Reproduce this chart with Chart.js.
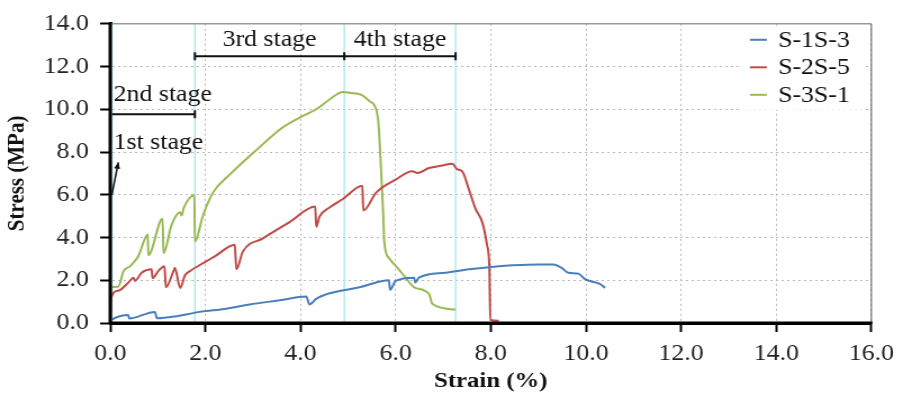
<!DOCTYPE html>
<html>
<head>
<meta charset="utf-8">
<script src="https://cdn.jsdelivr.net/npm/chart.js@4.4.0/dist/chart.umd.min.js"></script>
<style>
    html, body { margin: 0; padding: 0; background: #fff; }
</style>
</head>
<body>
<canvas id="stressChart" width="803" height="398" style="display:block;width:903px;height:398px"></canvas>
<script>
// Stress-strain curves of three specimens with loading stages

const seriesNames = ['S-1S-3', 'S-2S-5', 'S-3S-1'];
const seriesColors = ['#4a7ebb', '#be4b48', '#98b954'];

// S-1S-3
const s1Strain = [0, 0.02, 0.38, 0.40, 0.94, 0.98, 1.40, 1.88, 2.44, 2.93, 3.56, 4.12, 4.19, 4.33, 4.61,
    5.24, 5.86, 5.88, 6.00, 6.39, 6.41, 6.49, 7.05, 7.54, 8.17, 8.45, 9.00, 9.32, 9.49, 9.63, 9.84,
    9.98, 10.12, 10.30, 10.40];
const s1Stress = [0.10, 0.14, 0.37, 0.21, 0.52, 0.22, 0.32, 0.52, 0.67, 0.87, 1.06, 1.24, 0.87, 1.13, 1.39,
    1.67, 2.00, 1.55, 1.97, 2.12, 1.90, 2.12, 2.35, 2.51, 2.66, 2.70, 2.74, 2.74, 2.58, 2.35, 2.31,
    2.05, 1.94, 1.82, 1.64];

// S-2S-5
const s2Strain = [0, 0.02, 0.17, 0.38, 0.49, 0.52, 0.66, 0.87, 0.89, 1.01, 1.14, 1.17, 1.33, 1.36, 1.47,
    1.57, 1.68, 1.99, 2.20, 2.62, 2.65, 2.79, 3.21, 3.77, 4.31, 4.33, 4.40, 4.61, 4.89, 5.30, 5.32,
    5.59, 6.00, 6.35, 6.46, 6.70, 6.98, 7.19, 7.29, 7.40, 7.54, 7.68, 7.82, 7.92, 7.97, 7.99, 8.17];
const s2Stress = [0, 1.20, 1.51, 1.89, 2.12, 1.97, 2.35, 2.51, 2.10, 2.43, 2.66, 1.67, 2.43, 2.58, 1.64,
    2.22, 2.43, 2.85, 3.12, 3.66, 2.51, 3.35, 3.96, 4.72, 5.45, 4.50, 4.98, 5.40, 5.80, 6.42, 5.26,
    6.10, 6.71, 7.10, 7.02, 7.25, 7.37, 7.45, 7.20, 7.10, 6.25, 5.34, 4.72, 3.66, 2.58, 0.14, 0.10];

// S-3S-1
const s3Strain = [0, 0.01, 0.03, 0.17, 0.28, 0.42, 0.59, 0.79, 0.80, 1.10, 1.12, 1.29, 1.47, 1.50, 1.55,
    1.77, 1.78, 1.95, 2.16, 2.51, 3.07, 3.63, 4.05, 4.33, 4.61, 4.89, 5.06, 5.27, 5.45, 5.59, 5.64,
    5.69, 5.74, 5.76, 5.86, 6.04, 6.21, 6.39, 6.70, 6.77, 7.26];
const s3Stress = [0, 1.00, 1.67, 1.70, 2.43, 2.66, 3.12, 4.14, 3.17, 4.88, 3.27, 4.59, 5.18, 5.03, 5.41,
    5.98, 3.81, 5.03, 6.10, 6.94, 8.09, 9.16, 9.69, 10.00, 10.46, 10.81, 10.76, 10.69, 10.38, 10.00, 9.31,
    7.33, 5.03, 3.81, 3.04, 2.58, 2.12, 1.67, 1.36, 0.90, 0.63];

// Axis ranges and stage boundaries (strain, %)
const strainRange = [0, 16];
const stressRange = [0, 14];
const stageBounds = [0.04, 1.78, 4.92, 7.26];
const stageLabels = ['1st stage', '2nd stage', '3rd stage', '4th stage'];

const serifFont = "'Liberation Serif', 'Times New Roman', serif";

function toPoints(xs, ys) {
    return xs.map((x, i) => ({ x: x, y: ys[i] }));
}

function strokeLine(ctx, x0, y0, x1, y1) {
    ctx.beginPath();
    ctx.moveTo(x0, y0);
    ctx.lineTo(x1, y1);
    ctx.stroke();
}

const stagePlugin = {
    id: 'stages',
    beforeDatasetsDraw(chart) {
        const { ctx, chartArea, scales } = chart;
        ctx.save();
        ctx.strokeStyle = '#a3e2ea';
        ctx.lineWidth = 1.2;
        stageBounds.forEach(s => {
            const x = scales.x.getPixelForValue(s);
            strokeLine(ctx, x, chartArea.top, x, chartArea.bottom);
        });
        ctx.restore();
    },
    afterDatasetsDraw(chart) {
        const { ctx, chartArea, scales } = chart;
        const xs = scales.x, ys = scales.y;
        ctx.save();
        ctx.setLineDash([]);

        // frame: grey top and right, solid black axes
        ctx.lineWidth = 1.5;
        ctx.strokeStyle = '#999';
        strokeLine(ctx, chartArea.left, chartArea.top, chartArea.right, chartArea.top);
        ctx.lineWidth = 1;
        ctx.strokeStyle = '#555';
        strokeLine(ctx, chartArea.right, chartArea.top, chartArea.right, chartArea.bottom);
        ctx.lineWidth = 3;
        ctx.strokeStyle = '#000';
        strokeLine(ctx, chartArea.left, chartArea.top - 1, chartArea.left, chartArea.bottom + 1);
        strokeLine(ctx, chartArea.left - 1, chartArea.bottom, chartArea.right + 1, chartArea.bottom);

        // stage brackets
        ctx.strokeStyle = '#111';
        ctx.lineWidth = 2;
        const hbar = (x0, x1, y, ticks) => {
            const py = ys.getPixelForValue(y);
            ctx.beginPath();
            ctx.moveTo(xs.getPixelForValue(x0), py);
            ctx.lineTo(xs.getPixelForValue(x1), py);
            ticks.forEach(t => {
                const px = xs.getPixelForValue(t);
                ctx.moveTo(px, py - 4);
                ctx.lineTo(px, py + 4);
            });
            ctx.stroke();
        };
        hbar(stageBounds[1], stageBounds[3], 12.48, [stageBounds[1], stageBounds[2], stageBounds[3]]);
        hbar(stageBounds[0], stageBounds[1], 9.77, [stageBounds[1]]);

        ctx.fillStyle = '#111';
        ctx.font = '23px ' + serifFont;
        ctx.textBaseline = 'alphabetic';
        ctx.textAlign = 'center';
        ctx.fillText(stageLabels[2], xs.getPixelForValue((stageBounds[1] + stageBounds[2]) / 2), ys.getPixelForValue(12.95));
        ctx.fillText(stageLabels[3], xs.getPixelForValue((stageBounds[2] + stageBounds[3]) / 2), ys.getPixelForValue(12.95));
        ctx.textAlign = 'left';
        ctx.fillText(stageLabels[1], xs.getPixelForValue(0.07), ys.getPixelForValue(10.41));
        ctx.fillText(stageLabels[0], xs.getPixelForValue(0.07), ys.getPixelForValue(8.13));

        // arrow pointing at the first stage
        const ax0 = xs.getPixelForValue(0.035), ay0 = ys.getPixelForValue(6.0);
        const ax1 = xs.getPixelForValue(0.17), ay1 = ys.getPixelForValue(7.52);
        const ang = Math.atan2(ay1 - ay0, ax1 - ax0);
        ctx.lineWidth = 1.5;
        strokeLine(ctx, ax0, ay0, ax1, ay1);
        ctx.beginPath();
        ctx.moveTo(ax1, ay1);
        ctx.lineTo(ax1 - 7 * Math.cos(ang - 0.4), ay1 - 7 * Math.sin(ang - 0.4));
        ctx.lineTo(ax1 - 7 * Math.cos(ang + 0.4), ay1 - 7 * Math.sin(ang + 0.4));
        ctx.closePath();
        ctx.fill();

        // legend in the upper right corner
        const right = chartArea.right, top = chartArea.top;
        ctx.fillStyle = '#fff';
        ctx.fillRect(right - 115, top + 4, 107, 82);
        chart.data.datasets.forEach((ds, i) => {
            const y = top + 16 + i * 27.5;
            ctx.strokeStyle = ds.borderColor;
            ctx.lineWidth = 2;
            strokeLine(ctx, right - 108, y, right - 93, y);
            ctx.fillStyle = '#111';
            ctx.font = '23px ' + serifFont;
            ctx.textAlign = 'left';
            ctx.textBaseline = 'middle';
            ctx.fillText(ds.label, right - 83, y + 1);
        });
        ctx.restore();
    }
};

const gridOpts = {
    color: '#b8b8b8',
    lineWidth: 1,
    tickColor: '#000',
    tickLength: 9,
    tickWidth: 2,
    tickBorderDash: []
};

new Chart(document.getElementById('stressChart'), {
    type: 'scatter',
    data: {
        datasets: [
            { label: seriesNames[0], data: toPoints(s1Strain, s1Stress), borderColor: seriesColors[0] },
            { label: seriesNames[1], data: toPoints(s2Strain, s2Stress), borderColor: seriesColors[1] },
            { label: seriesNames[2], data: toPoints(s3Strain, s3Stress), borderColor: seriesColors[2] }
        ].map(ds => Object.assign(ds, {
            showLine: true,
            borderWidth: 2,
            pointRadius: 0,
            cubicInterpolationMode: 'monotone',
            fill: false
        }))
    },
    options: {
        responsive: false,
        animation: false,
        devicePixelRatio: 1,
        layout: { padding: { top: 18, right: 26, left: 0, bottom: 0 } },
        plugins: {
            legend: { display: false },
            tooltip: { enabled: false }
        },
        scales: {
            x: {
                type: 'linear',
                min: strainRange[0],
                max: strainRange[1],
                grid: gridOpts,
                border: { color: '#000', width: 3, dash: [2, 3] },
                ticks: {
                    stepSize: 2,
                    padding: 8,
                    color: '#222',
                    font: { family: serifFont, size: 23 },
                    callback: v => v.toFixed(1)
                },
                title: {
                    display: true,
                    text: 'Strain (%)',
                    color: '#111',
                    font: { family: serifFont, size: 22, weight: 'bold' },
                    padding: { top: 0, bottom: 3 }
                },
                afterFit: scale => { scale.height = 75; }
            },
            y: {
                type: 'linear',
                min: stressRange[0],
                max: stressRange[1],
                grid: gridOpts,
                border: { color: '#000', width: 3, dash: [2, 3] },
                ticks: {
                    stepSize: 2,
                    padding: 10,
                    color: '#222',
                    font: { family: serifFont, size: 23 },
                    callback: v => v.toFixed(1)
                },
                title: {
                    display: true,
                    text: 'Stress (MPa)',
                    color: '#111',
                    font: { family: serifFont, size: 21, weight: 'bold' },
                    padding: { top: 3, bottom: 0 }
                },
                afterFit: scale => { scale.width = 98; }
            }
        }
    },
    plugins: [stagePlugin]
});
</script>
</body>
</html>
